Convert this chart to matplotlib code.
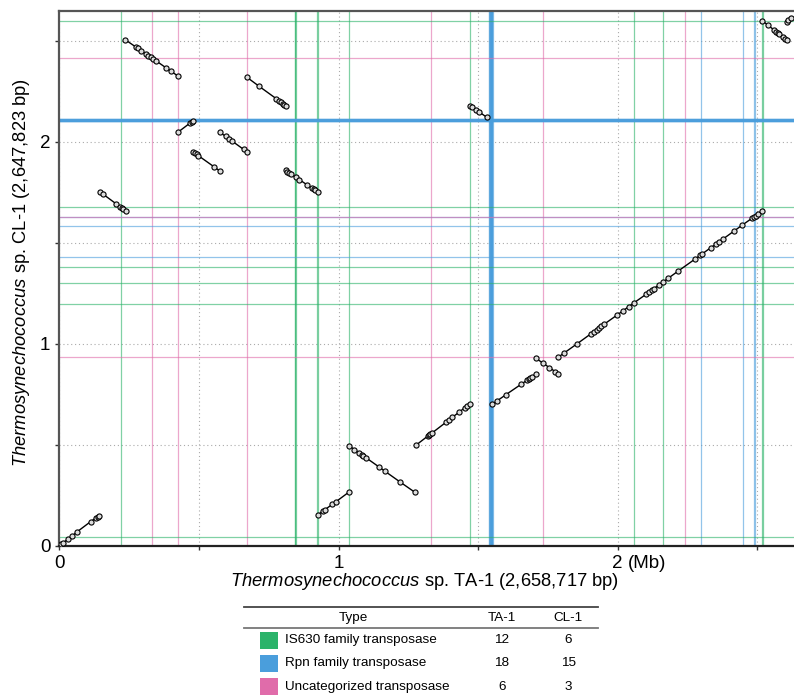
import numpy as np
import matplotlib
matplotlib.use("Agg")
import matplotlib.pyplot as plt
from matplotlib.lines import Line2D
from matplotlib.patches import Rectangle

plt.rcParams["font.family"] = ["Liberation Sans", "DejaVu Sans"]
plt.rcParams["mathtext.fontset"] = "custom"
plt.rcParams["mathtext.rm"] = "Liberation Sans"
plt.rcParams["mathtext.it"] = "Liberation Sans:italic"

# ── data (Mb) ────────────────────────────────────────────────────────────────
TA1_LEN = 2.658717
CL1_LEN = 2.647823

# syntenic blocks: (TA-1 positions, CL-1 positions)
BLOCKS = [
    ([0.000, 0.006, 0.012, 0.030, 0.044, 0.064, 0.112, 0.131, 0.138, 0.142],
     [0.000, 0.007, 0.013, 0.031, 0.046, 0.069, 0.119, 0.137, 0.143, 0.147]),
    ([0.147, 0.156, 0.204, 0.218, 0.223, 0.228, 0.238],
     [1.750, 1.741, 1.692, 1.678, 1.673, 1.668, 1.658]),
    ([0.236, 0.275, 0.281, 0.293, 0.311, 0.319, 0.327, 0.336, 0.347, 0.382, 0.400, 0.426],
     [2.505, 2.468, 2.462, 2.451, 2.434, 2.426, 2.419, 2.410, 2.400, 2.366, 2.349, 2.324]),
    ([0.426, 0.468, 0.474, 0.480],
     [2.048, 2.092, 2.098, 2.104]),
    ([0.480, 0.486, 0.492, 0.498, 0.555, 0.574],
     [1.949, 1.943, 1.937, 1.931, 1.875, 1.856]),
    ([0.574, 0.596, 0.608, 0.620, 0.660, 0.673],
     [2.048, 2.026, 2.014, 2.002, 1.962, 1.949]),
    ([0.672, 0.715, 0.777, 0.786, 0.793, 0.800, 0.806, 0.812],
     [2.319, 2.275, 2.213, 2.203, 2.196, 2.189, 2.183, 2.177]),
    ([0.811, 0.817, 0.823, 0.830, 0.848, 0.860, 0.888, 0.906, 0.911, 0.916, 0.925],
     [1.858, 1.852, 1.847, 1.840, 1.823, 1.812, 1.786, 1.769, 1.764, 1.760, 1.751]),
    ([0.925, 0.946, 0.952, 0.977, 0.991, 1.038],
     [0.152, 0.173, 0.179, 0.204, 0.218, 0.266]),
    ([1.038, 1.057, 1.074, 1.084, 1.089, 1.098, 1.144, 1.166, 1.220, 1.273],
     [0.495, 0.476, 0.460, 0.450, 0.445, 0.436, 0.391, 0.369, 0.316, 0.265]),
    ([1.277, 1.321, 1.325, 1.329, 1.334, 1.384, 1.395, 1.407, 1.433, 1.452, 1.459, 1.471],
     [0.497, 0.544, 0.548, 0.552, 0.557, 0.610, 0.622, 0.635, 0.662, 0.683, 0.690, 0.703]),
    ([1.551, 1.568, 1.600, 1.655, 1.674, 1.681, 1.687, 1.694, 1.707],
     [0.701, 0.717, 0.748, 0.800, 0.818, 0.825, 0.831, 0.837, 0.850]),
    ([1.707, 1.731, 1.755, 1.777, 1.787],
     [0.928, 0.905, 0.882, 0.861, 0.852]),
    ([1.787, 1.807, 1.854, 1.905, 1.915, 1.925, 1.932, 1.941, 1.952, 1.998, 2.020,
      2.039, 2.059, 2.101, 2.113, 2.122, 2.130, 2.149, 2.163, 2.181, 2.215, 2.278,
      2.295, 2.302, 2.333, 2.352, 2.362, 2.376, 2.418, 2.446, 2.482, 2.487, 2.494,
      2.501, 2.518],
     [0.933, 0.953, 0.999, 1.050, 1.060, 1.070, 1.077, 1.086, 1.097, 1.142, 1.164,
      1.183, 1.203, 1.244, 1.256, 1.265, 1.273, 1.292, 1.306, 1.324, 1.358, 1.420,
      1.437, 1.444, 1.475, 1.493, 1.503, 1.517, 1.559, 1.587, 1.622, 1.627, 1.634,
      1.641, 1.658]),
    ([1.471, 1.479, 1.492, 1.504, 1.531],
     [2.179, 2.171, 2.158, 2.147, 2.121]),
    ([2.518, 2.539, 2.560, 2.567, 2.573, 2.579, 2.593, 2.599, 2.605],
     [2.599, 2.576, 2.553, 2.545, 2.538, 2.532, 2.516, 2.510, 2.503]),
    ([2.605, 2.611, 2.619],
     [2.594, 2.604, 2.613]),
]

# transposase loci
TA1_IS630 = [0.221, 0.844, 0.845, 0.846, 0.924, 0.926, 1.038, 1.472, 2.059, 2.163, 2.518, 2.519]
TA1_RPN = [1.5395, 1.5402, 1.5418, 1.5431, 1.5436, 1.5449, 1.5455, 1.5467, 1.5472,
           1.5486, 1.5493, 1.5501, 1.5510, 1.5518, 2.297, 2.448, 2.488, 2.492]
TA1_UNCAT = [0.333, 0.426, 0.673, 1.330, 1.731, 2.241]
CL1_IS630 = [2.598, 1.675, 1.378, 1.302, 1.197, 0.042]
CL1_RPN = [2.1002, 2.1011, 2.1023, 2.1036, 2.1048, 2.1061, 2.1072, 2.1088, 2.1101,
           2.1115, 2.1128, 2.1139, 1.627, 1.583, 1.431]
CL1_UNCAT = [2.413, 1.627, 0.933]

TYPES = ["IS630 family transposase", "Rpn family transposase", "Uncategorized transposase"]
COUNT_TA1 = [12, 18, 6]
COUNT_CL1 = [6, 15, 3]

GREEN, BLUE, PINK = "#2BB36A", "#4A9EDC", "#E06CAA"

# ── figure ───────────────────────────────────────────────────────────────────
W, H = 794, 697
fig = plt.figure(figsize=(W / 100, H / 100), dpi=100)
ax = fig.add_axes([59.3 / W, 151.3 / H, TA1_LEN * 279.2 / W, CL1_LEN * 202.0 / H])


def px(x, y):
    """figure pixel (from top-left) -> figure fraction"""
    return x / W, 1 - y / H


for pos_list, col in [(TA1_IS630, GREEN), (TA1_RPN, BLUE), (TA1_UNCAT, PINK)]:
    for p in pos_list:
        ax.axvline(p, color=col, lw=0.9, alpha=0.6, zorder=1)
for pos_list, col in [(CL1_IS630, GREEN), (CL1_RPN, BLUE), (CL1_UNCAT, PINK)]:
    for p in pos_list:
        ax.axhline(p, color=col, lw=0.9, alpha=0.6, zorder=1)

for bx, by in BLOCKS:
    ax.plot(bx, by, color="black", lw=1.0, marker="o", ms=3.7, mfc="#dcdcdc",
            mec="black", mew=0.8, zorder=3, clip_on=True)

ax.set_xlim(0, TA1_LEN)
ax.set_ylim(0, CL1_LEN)
ax.set_xticks([0, 1, 2])
ax.set_xticks([0.5, 1.5, 2.5], minor=True)
ax.set_yticks([0, 1, 2])
ax.set_yticks([0.5, 1.5, 2.5], minor=True)
ax.set_xticklabels(["0", "1", "2"], fontsize=13.5)
ax.set_yticklabels(["0", "1", "2"], fontsize=13.5)
ax.tick_params(which="both", direction="out", length=3, width=1, color="#333", pad=3.5)
ax.grid(which="both", color="#aaaaaa", lw=0.8, ls=(0, (1, 2.5)), zorder=0)
ax.set_axisbelow(True)
for side in ["left", "bottom", "top"]:
    ax.spines[side].set_color("#555555")
    ax.spines[side].set_linewidth(1.6)
ax.spines["bottom"].set_color("#222222")
ax.spines["right"].set_visible(False)

ax.annotate("(Mb)", xy=(2.0, 0), xycoords=("data", "axes fraction"),
            xytext=(7.6, -6.4), textcoords="offset points", ha="left", va="top",
            fontsize=13.5)

fig.text(*px(425, 581), r"$\it{Thermosynechococcus}$ sp. TA-1 (2,658,717 bp)",
         ha="center", va="center", fontsize=13.2)
fig.text(*px(22, 272.5), r"$\it{Thermosynechococcus}$ sp. CL-1 (2,647,823 bp)",
         ha="center", va="center", rotation=90, fontsize=13.2)

# ── table of transposase counts ─────────────────────────────────────────────
fig.add_artist(Line2D([244.3 / W, 597.7 / W], [1 - 607.3 / H] * 2, color="#444", lw=1.3))
fig.add_artist(Line2D([244.3 / W, 597.7 / W], [1 - 627.7 / H] * 2, color="#777", lw=1.3))
fs_tab = 9.7
fig.text(*px(353, 617.8), "Type", ha="center", va="center", fontsize=fs_tab)
fig.text(*px(501.7, 617.8), "TA-1", ha="center", va="center", fontsize=fs_tab)
fig.text(*px(568.3, 617.8), "CL-1", ha="center", va="center", fontsize=fs_tab)
row_y = [640.2, 663.4, 686.6]
for name, n1, n2, col, yy in zip(TYPES, COUNT_TA1, COUNT_CL1, [GREEN, BLUE, PINK], row_y):
    x0, y0 = px(260.3, yy + 8.6)
    fig.add_artist(Rectangle((x0, y0), 17.4 / W, 17.2 / H, color=col, lw=0,
                             transform=fig.transFigure))
    fig.text(*px(285, yy), name, ha="left", va="center", fontsize=fs_tab)
    fig.text(*px(501.7, yy), str(n1), ha="center", va="center", fontsize=fs_tab)
    fig.text(*px(568.3, yy), str(n2), ha="center", va="center", fontsize=fs_tab)

fig.savefig("out.png", dpi=100)
